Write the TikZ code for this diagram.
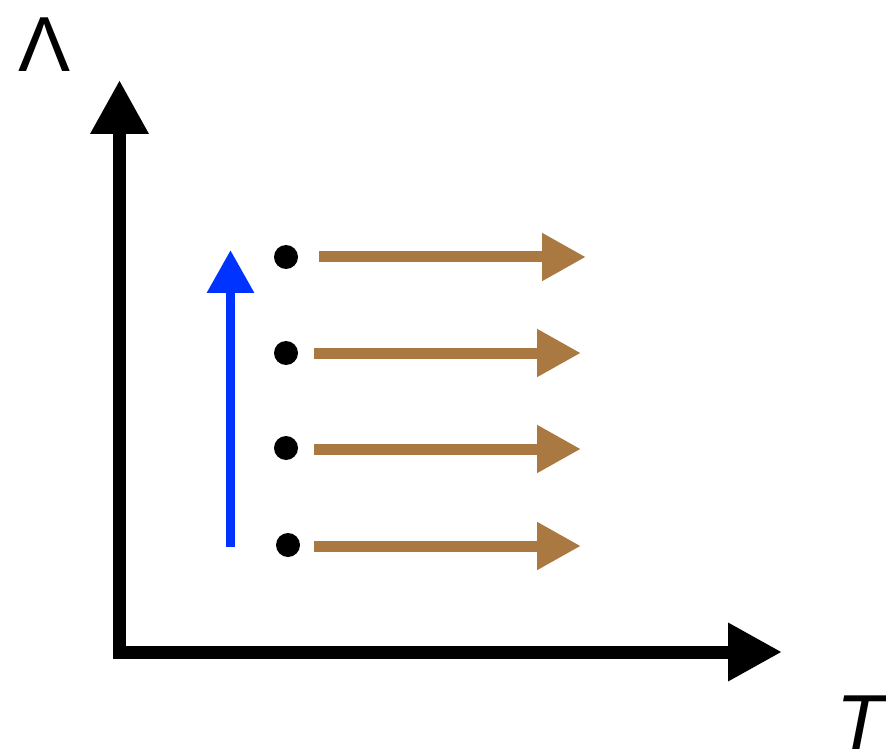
\documentclass[tikz,border=0pt]{standalone}
\usepackage{fontspec}
\setmainfont{Liberation Sans}
\usetikzlibrary{arrows.meta}
\definecolor{flowblue}{RGB}{0,51,255}
\definecolor{bronze}{RGB}{170,121,66}
\begin{document}
\begin{tikzpicture}[x=1pt,y=-1pt,
  axisline/.style={line width=13pt, line join=miter,
    {Triangle[length=54pt,width=55pt]}-{Triangle[length=54pt,width=55pt]}},
  risearrow/.style={flowblue, line width=9.5pt,
    -{Triangle[length=43pt,width=45pt]}},
  flowarrow/.style={bronze, line width=11pt,
    -{Triangle[length=44pt,width=45pt]}},
  pointdot/.style={circle, fill=black, inner sep=0pt, minimum size=24pt},
  axislabel/.style={inner sep=0pt, font=\fontsize{78}{78}\selectfont}]
\useasboundingbox (0,0) rectangle (886,751);

% axes
\coordinate (ytip) at (119.5,80);
\coordinate (origin) at (119.5,652);
\coordinate (xtip) at (782,652);
\draw[axisline] (ytip) -- (origin) -- (xtip);

\node[axislabel, anchor=base] (lambda) at (44.5,72) {Λ};
\node[axislabel, anchor=base west] (temp) at (836,749) {\itshape T};

% upward arrow along the parameter
\coordinate (rise0) at (230.5,547);
\coordinate (rise1) at (230.5,250);
\draw[risearrow] (rise0) -- (rise1);

% starting points and their horizontal flows
\node[pointdot] (p1) at (286,257) {};
\node[pointdot] (p2) at (286,353) {};
\node[pointdot] (p3) at (286,448) {};
\node[pointdot] (p4) at (288,545) {};

\coordinate (a1) at (319,257);  \coordinate (b1) at (586,257);
\coordinate (a2) at (314,353);  \coordinate (b2) at (581,353);
\coordinate (a3) at (314,449);  \coordinate (b3) at (581,449);
\coordinate (a4) at (314,546);  \coordinate (b4) at (581,546);
\foreach \i in {1,...,4}
  \draw[flowarrow] (a\i) -- (b\i);
\end{tikzpicture}
\end{document}
